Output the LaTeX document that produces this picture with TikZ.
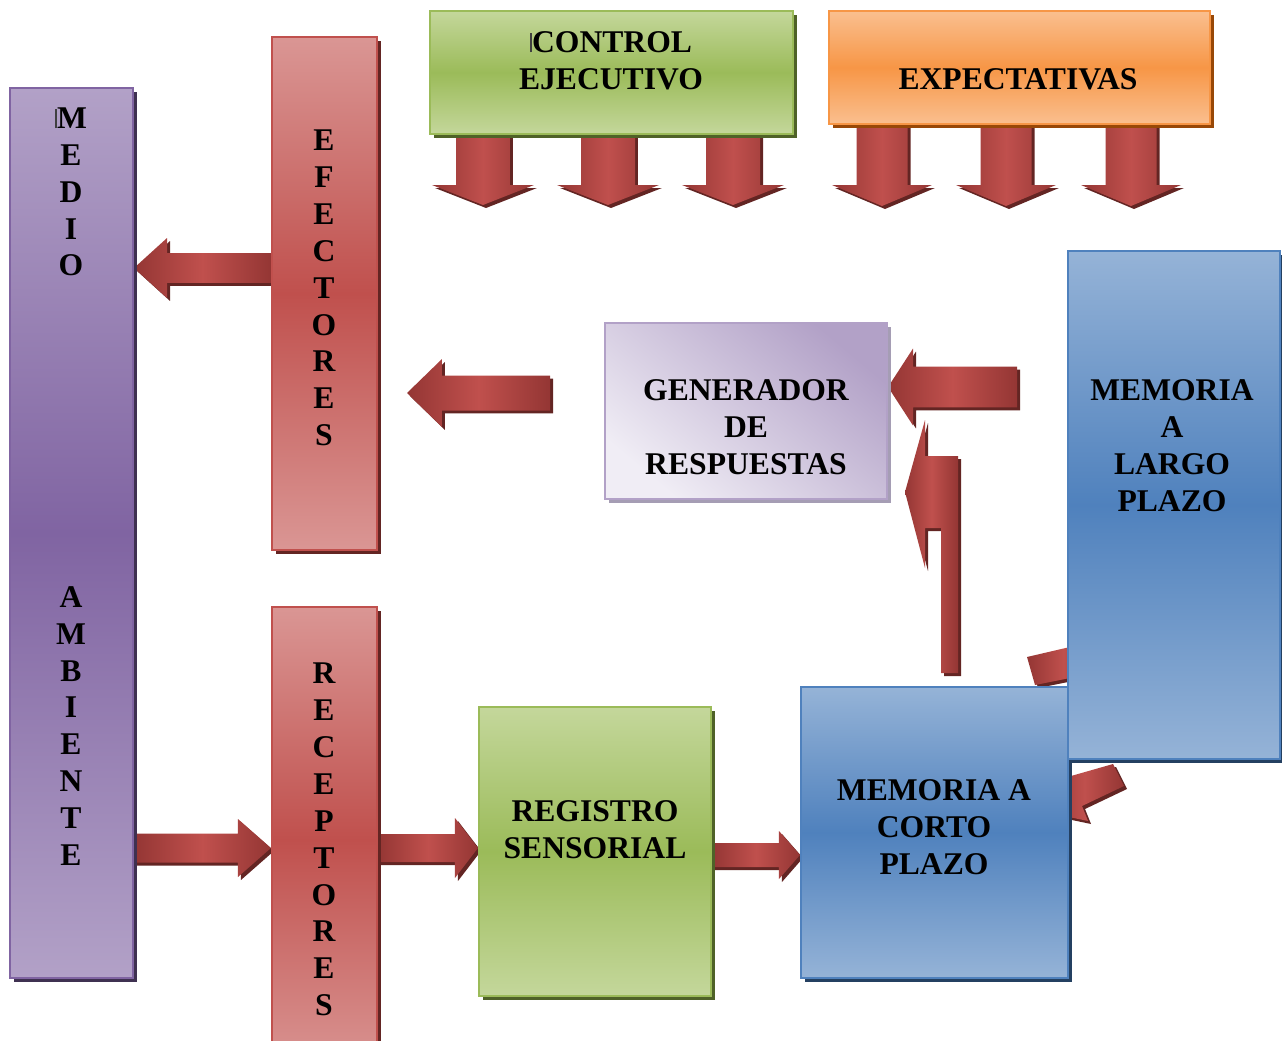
\documentclass[tikz,border=0pt]{standalone}
\usepackage{fontspec}
\setmainfont{Liberation Serif}
\usetikzlibrary{calc, shadows}

\pgfdeclarelayer{bg}
\pgfsetlayers{bg,main}

\definecolor{purpLt}{HTML}{B2A1C7}
\definecolor{purpMd}{HTML}{8064A2}
\definecolor{purpSh}{HTML}{3F3151}
\definecolor{redLt}{HTML}{DA9694}
\definecolor{redMd}{HTML}{C0504D}
\definecolor{redSh}{HTML}{632523}
\definecolor{grnLt}{HTML}{C4D79B}
\definecolor{grnMd}{HTML}{9BBB59}
\definecolor{grnSh}{HTML}{4F6228}
\definecolor{orgLt}{HTML}{FABF8F}
\definecolor{orgMd}{HTML}{F79646}
\definecolor{orgSh}{HTML}{984807}
\definecolor{bluLt}{HTML}{95B3D7}
\definecolor{bluMd}{HTML}{4F81BD}
\definecolor{bluSh}{HTML}{244061}
\definecolor{lavLt}{HTML}{F0EDF5}
\definecolor{lavDk}{HTML}{B2A1C7}
\definecolor{lavSh}{HTML}{A59DB4}
\definecolor{arrDk}{HTML}{943634}
\definecolor{arrLt}{HTML}{C0504D}
\definecolor{arrSh}{HTML}{632523}

% block arrow: from, to, shaft half width, head half width, head length
\newcommand{\barrow}[5]{%
  \coordinate (ba) at (#1);
  \coordinate (bb) at (#2);
  \coordinate (bh) at ($(bb)!#5!(ba)$);
  \shade[arrbody] ($(ba)!#3!90:(bb)$) -- ($(bh)!#3!90:(bb)$) -- ($(bh)!#4!90:(bb)$)
    -- (bb) -- ($(bh)!#4!-90:(bb)$) -- ($(bh)!#3!-90:(bb)$) -- ($(ba)!#3!-90:(bb)$) -- cycle;
}

\begin{document}
\begin{tikzpicture}[
  x=0.02cm, y=-0.02cm,
  every node/.style={font=\fontsize{18}{21}\selectfont\bfseries, align=center},
  blk/.style={draw, line width=1.2pt, inner sep=0pt},
  shadowed/.style={general shadow={fill=#1, shadow xshift=0.08cm, shadow yshift=-0.08cm}},
  purplebox/.style={blk, draw=purpMd, top color=purpLt, bottom color=purpLt, middle color=purpMd, shadowed=purpSh},
  redbox/.style={blk, draw=redMd, top color=redLt, bottom color=redLt, middle color=redMd, shadowed=redSh},
  greenbox/.style={blk, draw=grnMd, top color=grnLt, bottom color=grnLt, middle color=grnMd, shadowed=grnSh},
  orangebox/.style={blk, draw=orgMd, top color=orgLt, bottom color=orgLt, middle color=orgMd, shadowed=orgSh},
  bluebox/.style={blk, draw=bluMd, top color=bluLt, bottom color=bluLt, middle color=bluMd, shadowed=bluSh},
  lavbox/.style={blk, draw=lavDk, top color=lavDk, bottom color=lavLt, shading angle=-40, shadowed=lavSh},
  arrbody/.style={left color=arrDk, right color=arrDk, middle color=arrLt,
    preaction={fill=arrSh, transform canvas={xshift=0.06cm, yshift=-0.06cm}}},
  mark/.code={}
]
  \useasboundingbox (0,0) rectangle (1282,1041);

  % boxes
  \node[purplebox, minimum width=2.46cm, minimum height=17.8cm] (medio) at (71.5,533) {};
  \node[redbox, minimum width=2.1cm, minimum height=10.26cm] (efec) at (324.5,293.5) {};
  \node[redbox, minimum width=2.1cm, minimum height=9.32cm] (recep) at (324.5,840) {};
  \node[greenbox, minimum width=7.26cm, minimum height=2.46cm] (ctrl) at (611.5,72.5) {};
  \node[orangebox, minimum width=7.62cm, minimum height=2.26cm] (expec) at (1019.5,67.5) {};
  \node[lavbox, minimum width=5.64cm, minimum height=3.52cm] (gen) at (746,411) {};
  \node[greenbox, minimum width=4.64cm, minimum height=5.78cm] (reg) at (595,851.5) {};
  \node[bluebox, minimum width=5.34cm, minimum height=5.82cm] (mcp) at (934.5,832.5) {};
  \node[bluebox, minimum width=4.24cm, minimum height=10.16cm] (mlp) at (1174,505) {};

  % texts
  \node (medioA) at (71,192) {\textcolor{black!75}{\rule{1.2pt}{0.6em}}M\\E\\D\\I\\O};
  \node (medioB) at (71,726) {A\\M\\B\\I\\E\\N\\T\\E};
  \node (efecT) at (324,288) {E\\F\\E\\C\\T\\O\\R\\E\\S};
  \node (recepT) at (324,839.5) {R\\E\\C\\E\\P\\T\\O\\R\\E\\S};
  \node (ctrlT) at (611,60.5) {\textcolor{black!75}{\rule{1.2pt}{0.6em}}CONTROL\\EJECUTIVO};
  \node (expecT) at (1018,79) {EXPECTATIVAS};
  \node (genT) at (746,427) {GENERADOR\\DE\\RESPUESTAS};
  \node (mlpT) at (1172,446) {MEMORIA\\A\\LARGO\\PLAZO};
  \node (regT) at (595,829.5) {REGISTRO\\SENSORIAL};
  \node (mcpT) at (934,827) {MEMORIA A\\CORTO\\PLAZO};

  % free ends
  \coordinate (g0) at (550,393);
  \coordinate (g1) at (407,393);
  \coordinate (m0) at (1017,387);

  \begin{pgfonlayer}{bg}
    \foreach \x in {483,608,733}
      \barrow{\x,0 |- ctrl.south}{\x,205}{0.54cm}{1.02cm}{0.4cm};
    \foreach \x in {882,1006,1131}
      \barrow{\x,0 |- expec.south}{\x,206}{0.51cm}{1.0cm}{0.42cm};
    \barrow{efec.west |- 0,268}{medio.east |- 0,268}{0.3cm}{0.6cm}{0.66cm}
    \barrow{g0}{g1}{0.35cm}{0.68cm}{0.7cm}
    \barrow{m0}{gen.east |- m0}{0.41cm}{0.77cm}{0.5cm}
    \barrow{medio.east |- 0,848}{recep.west |- 0,848}{0.29cm}{0.58cm}{0.66cm}
    \barrow{recep.east |- 0,848}{reg.west |- 0,848}{0.28cm}{0.6cm}{0.46cm}
    \barrow{reg.east |- 0,855}{mcp.west |- 0,855}{0.24cm}{0.48cm}{0.42cm}
    % bent arrow from short term memory
    \shade[arrbody] (925,420) -- (905,492) -- (925,568) -- (925,528) -- (941,528)
      -- (941,673) -- (958,673) -- (958,456) -- (925,456) -- cycle;
    % arrows hidden behind the memory boxes
    \shade[arrbody] (1027,657) -- (1100,640) -- (1100,672) -- (1035,685) -- cycle;
    \shade[arrbody] (1050,782) -- (1113,764) -- (1124,786) -- (1082,806)
      -- (1088,821) -- (1045,812) -- cycle;
  \end{pgfonlayer}
\end{tikzpicture}
\end{document}
